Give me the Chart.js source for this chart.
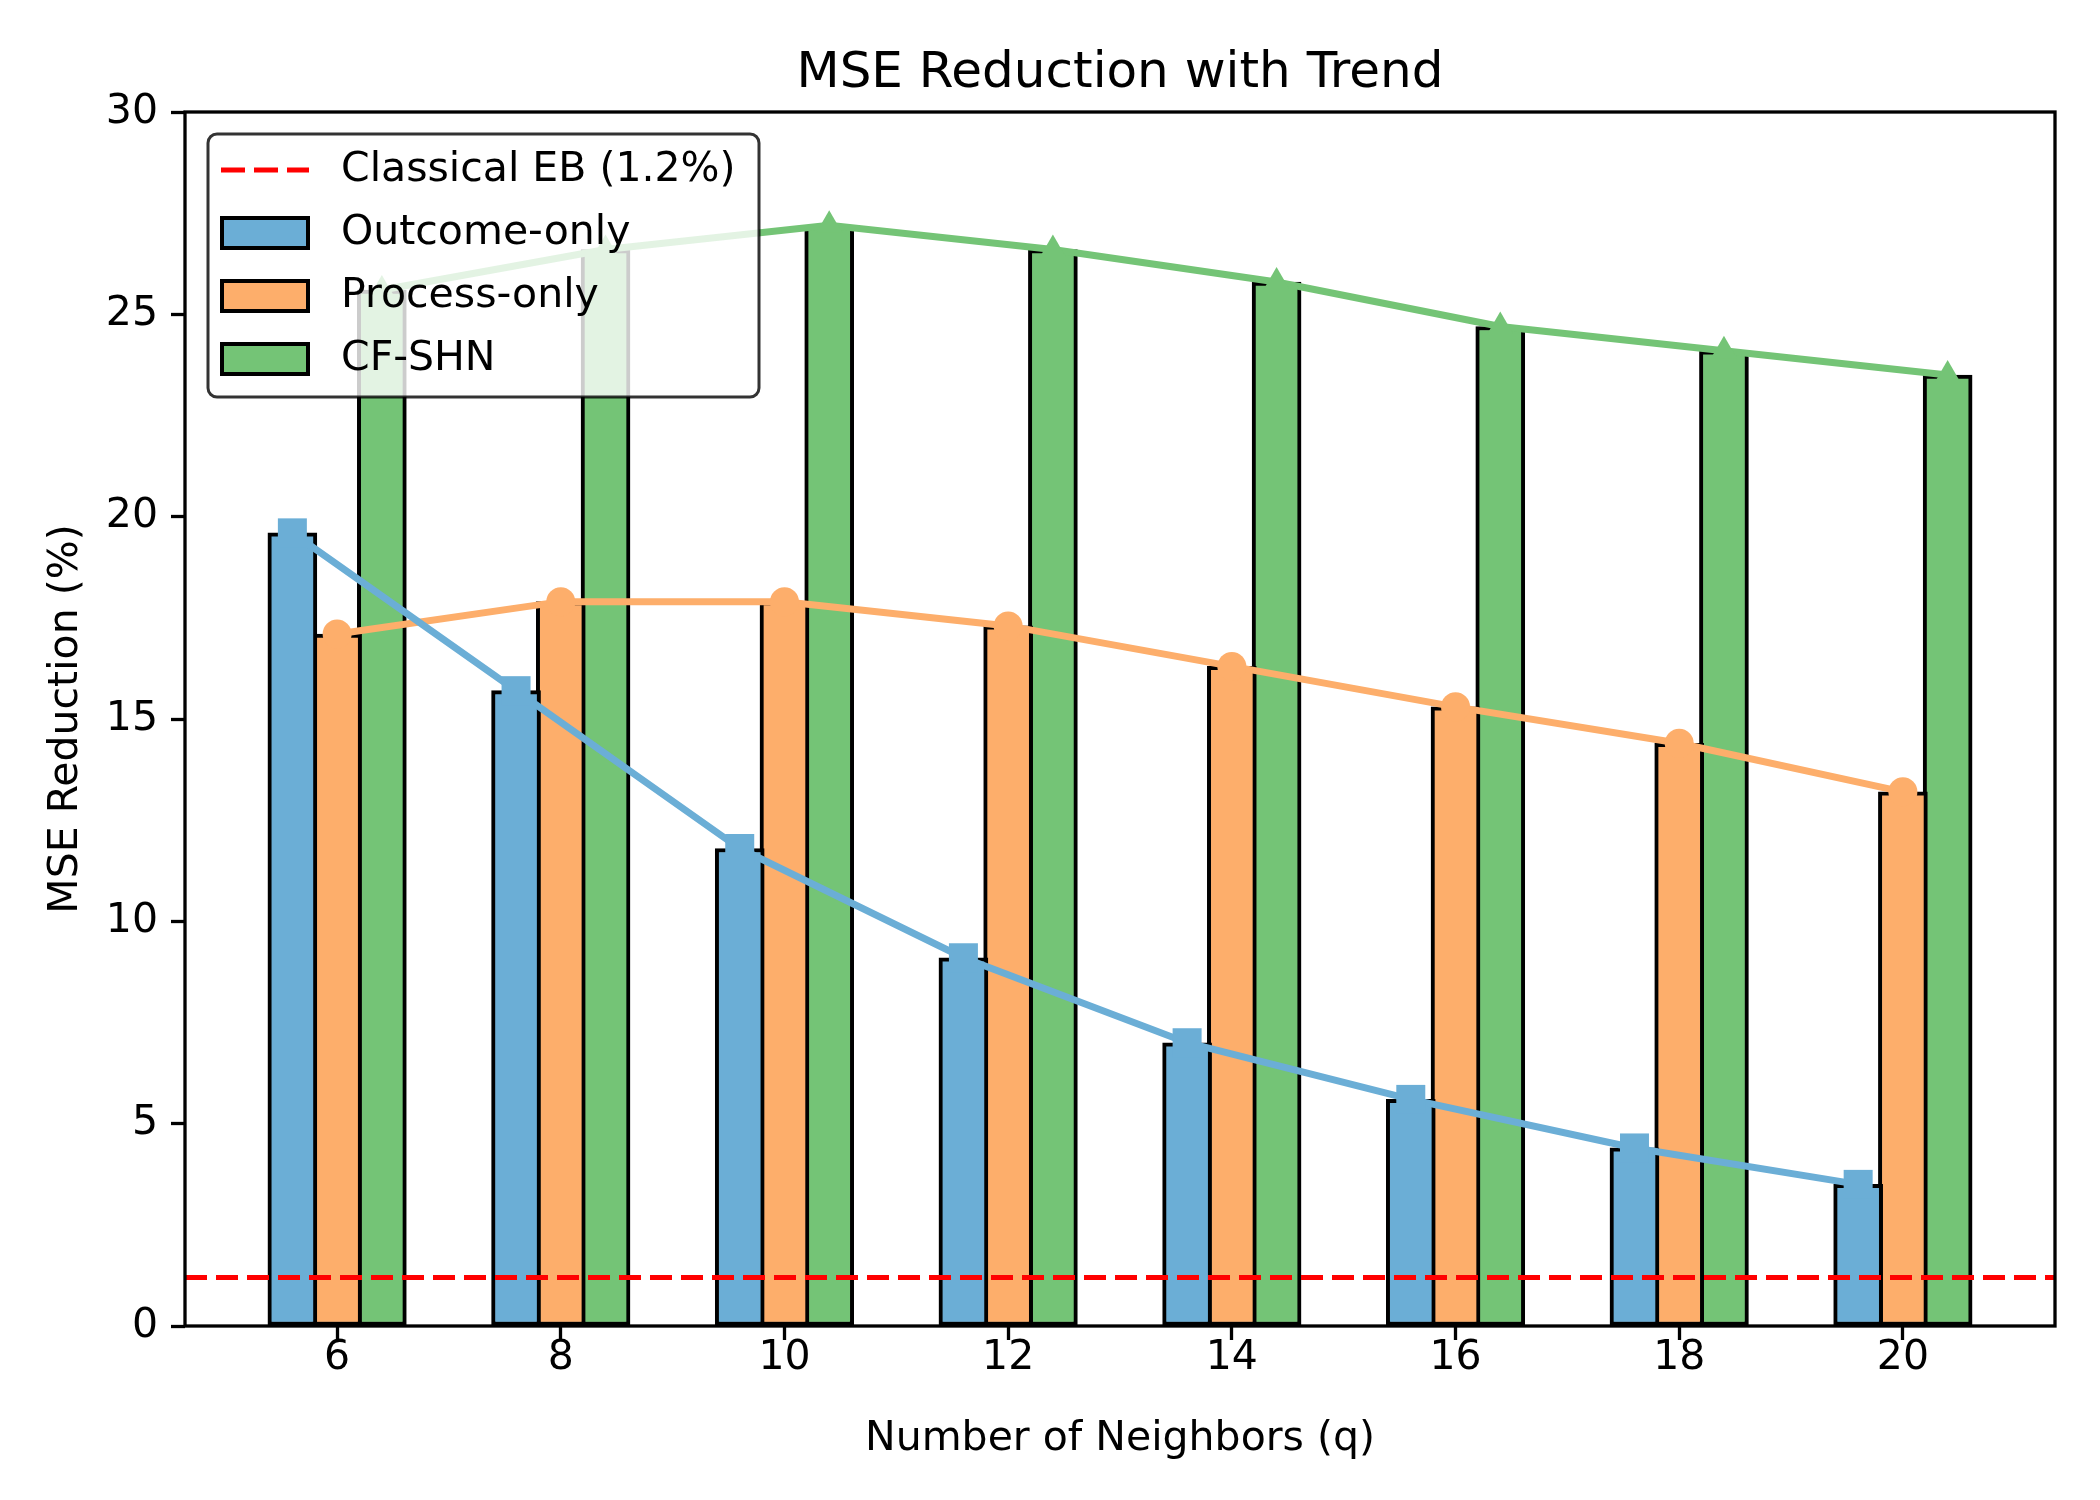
<!DOCTYPE html>
<html lang="en">
<head>
<meta charset="UTF-8">
<title>MSE Reduction with Trend</title>
<script src="https://cdn.jsdelivr.net/npm/chart.js"></script>
<style>
    body { margin: 0; background: #fff; }
    #wrap { width: 2100px; height: 1500px; }
</style>
</head>
<body>
<div id="wrap"><canvas id="mseChart" width="2100" height="1500"></canvas></div>
<script>
// values
const neighbors   = [6, 8, 10, 12, 14, 16, 18, 20];
const outcomeOnly = [19.6, 15.7, 11.8, 9.1, 7.0, 5.6, 4.4, 3.5];
const processOnly = [17.1, 17.9, 17.9, 17.3, 16.3, 15.3, 14.4, 13.2];
const cfShn       = [25.6, 26.6, 27.2, 26.6, 25.8, 24.7, 24.1, 23.5];
const classicalEB = 1.2;
const seriesNames = ['Outcome-only', 'Process-only', 'CF-SHN'];
const ebName      = 'Classical EB (1.2%)';
const chartTitle  = 'MSE Reduction with Trend';
const xTicks      = [6, 8, 10, 12, 14, 16, 18, 20];
const yTicks      = [0, 5, 10, 15, 20, 25, 30];

// layout
const barShift = 0.4;          // offset of side bars from q
const xMin = 4.64, xMax = 21.36;
const colors = ['#6baed6', '#fdae6b', '#74c476'];
const markers = [['rect', 20.5], ['circle', 14.5], ['triangle', 15]];
const FONT = "'DejaVu Sans', sans-serif";

Chart.defaults.color = '#000';
Chart.defaults.font.family = FONT;

const seriesVals = [outcomeOnly, processOnly, cfShn];
const shifts = [-barShift, 0, barShift];

let datasets = [];
seriesVals.forEach((vals, k) => {
    let pts = neighbors.map((q, i) => ({ x: q + shifts[k], y: vals[i] }));
    datasets.push({
        type: 'bar',
        label: seriesNames[k],
        data: pts,
        backgroundColor: colors[k],
        borderColor: '#000',
        borderWidth: 4,
        borderSkipped: false,
        barThickness: 49,
        grouped: false,
        order: 2
    });
    datasets.push({
        type: 'line',
        label: seriesNames[k] + ' trend',
        data: pts,
        borderColor: colors[k],
        backgroundColor: colors[k],
        borderWidth: 7,
        tension: 0,
        pointStyle: markers[k][0],
        pointRadius: markers[k][1],
        pointBorderWidth: 0,
        order: 1
    });
});
datasets.push({
    type: 'line',
    label: ebName,
    data: [{ x: xMin, y: classicalEB }, { x: xMax, y: classicalEB }],
    borderColor: '#ff0000',
    borderWidth: 5,
    borderDash: [22, 9],
    pointRadius: 0,
    order: 0
});

// black box round the plot area, title centred on it
const frame = {
    id: 'frame',
    afterDatasetsDraw(chart) {
        const { ctx, chartArea: a } = chart;
        ctx.save();
        ctx.strokeStyle = '#000';
        ctx.lineWidth = 3.3;
        ctx.strokeRect(a.left, a.top, a.right - a.left, a.bottom - a.top);
        ctx.font = '50px ' + FONT;
        ctx.textAlign = 'center';
        ctx.textBaseline = 'middle';
        ctx.fillStyle = '#000';
        ctx.fillText(chartTitle, (a.left + a.right) / 2, 74);
        ctx.restore();
    }
};

// matplotlib style legend box in the upper left
const boxLegend = {
    id: 'boxLegend',
    afterDraw(chart) {
        const { ctx, chartArea: a } = chart;
        const x = a.left + 23, y = a.top + 22, w = 551, h = 263;
        const rowY = [36, 99, 162, 225];
        ctx.save();
        ctx.beginPath();
        ctx.roundRect(x, y, w, h, 9);
        ctx.fillStyle = 'rgba(255,255,255,0.8)';
        ctx.fill();
        ctx.lineWidth = 3;
        ctx.strokeStyle = 'rgba(0,0,0,0.8)';
        ctx.stroke();

        ctx.font = '41px ' + FONT;
        ctx.textBaseline = 'middle';
        ctx.fillStyle = '#000';

        // dashed line entry
        ctx.beginPath();
        ctx.setLineDash([24, 9]);
        ctx.strokeStyle = '#ff0000';
        ctx.lineWidth = 5;
        ctx.moveTo(x + 13, y + rowY[0]);
        ctx.lineTo(x + 101, y + rowY[0]);
        ctx.stroke();
        ctx.setLineDash([]);
        ctx.fillText(ebName, x + 133, y + rowY[0]);

        seriesNames.forEach((name, k) => {
            const cy = y + rowY[k + 1];
            ctx.fillStyle = colors[k];
            ctx.fillRect(x + 14, cy - 15, 86, 30);
            ctx.strokeStyle = '#000';
            ctx.lineWidth = 4;
            ctx.strokeRect(x + 14, cy - 15, 86, 30);
            ctx.fillStyle = '#000';
            ctx.fillText(name, x + 133, cy);
        });
        ctx.restore();
    }
};

new Chart(document.getElementById('mseChart'), {
    data: { datasets: datasets },
    options: {
        responsive: false,
        devicePixelRatio: 1,
        animation: false,
        layout: { padding: { left: 0, right: 45, top: 112, bottom: 0 } },
        plugins: {
            legend: { display: false },
            tooltip: { enabled: false },
            title: { display: false }
        },
        scales: {
            x: {
                type: 'linear',
                min: xMin,
                max: xMax,
                offset: false,
                afterBuildTicks: s => { s.ticks = xTicks.map(v => ({ value: v })); },
                afterFit: s => { s.height = 174; },
                border: { display: false },
                grid: { offset: false, drawOnChartArea: false, drawTicks: true, tickLength: 14, tickWidth: 3.3, tickColor: '#000' },
                ticks: { font: { size: 41 }, padding: -6, maxRotation: 0 },
                title: {
                    display: true,
                    text: 'Number of Neighbors (q)',
                    font: { size: 41 },
                    padding: { top: 0, bottom: 36 }
                }
            },
            y: {
                type: 'linear',
                min: 0,
                max: 30,
                afterBuildTicks: s => { s.ticks = yTicks.map(v => ({ value: v })); },
                afterFit: s => { s.width = 185; },
                border: { display: false },
                grid: { drawOnChartArea: false, drawTicks: true, tickLength: 14, tickWidth: 3.3, tickColor: '#000' },
                ticks: { font: { size: 41 }, padding: 13 },
                title: {
                    display: true,
                    text: 'MSE Reduction (%)',
                    font: { size: 41 },
                    padding: { top: 42, bottom: 0 }
                }
            }
        }
    },
    plugins: [frame, boxLegend]
});
</script>
</body>
</html>
